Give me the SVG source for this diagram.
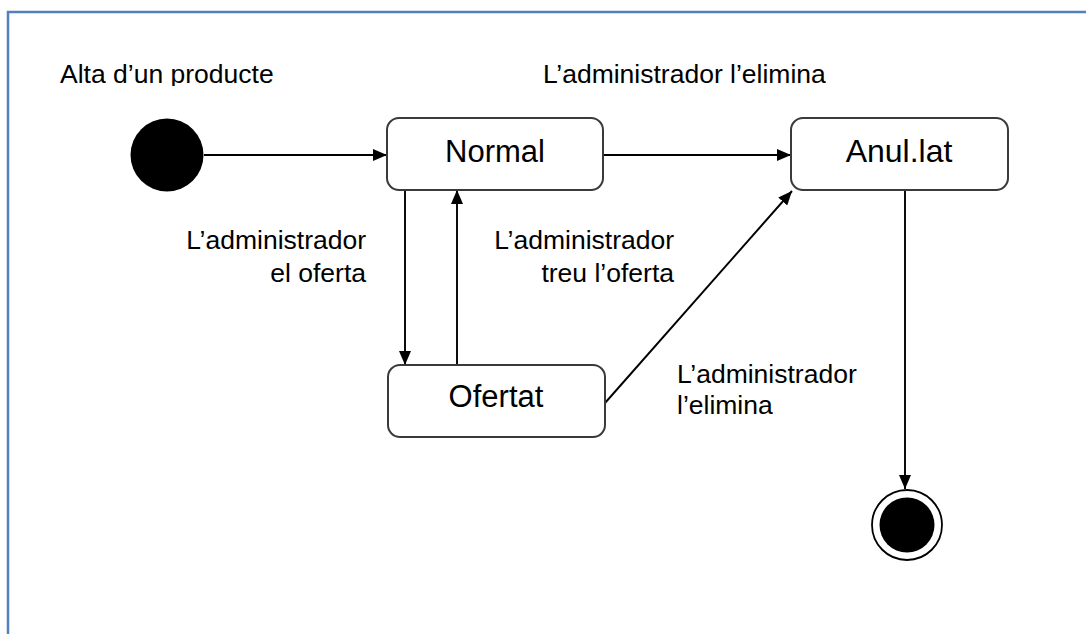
<svg xmlns="http://www.w3.org/2000/svg" width="1086" height="634" viewBox="0 0 1086 634">
  <style>
    .frame { stroke: #4f81bd; stroke-width: 2.5; fill: none; }
    .state rect { fill: #ffffff; stroke: #3a3a3a; stroke-width: 2; }
    .state text { font-family: "Liberation Sans", Arial, sans-serif; font-size: 31px; fill: #000; text-anchor: middle; }
    .lbl { font-family: "Liberation Sans", Arial, sans-serif; font-size: 26.5px; fill: #000; }
    .conn { stroke: #000; stroke-width: 1.9; fill: none; marker-end: url(#arr); }
  </style>
  <defs>
    <marker id="arr" viewBox="0 0 14 12" refX="14" refY="6" markerWidth="14" markerHeight="12" markerUnits="userSpaceOnUse" orient="auto">
      <path d="M0,0 L14,6 L0,12 z" fill="#000"/>
    </marker>
    <clipPath id="clipTop"><rect x="0" y="0" width="1086" height="86"/></clipPath>
  </defs>
  <rect width="1086" height="634" fill="#ffffff"/>
  <g id="frame">
    <path class="frame" d="M8,634 L8,12 L1086,12"/>
  </g>

  <g id="connectors">
    <line class="conn" x1="204" y1="155" x2="387" y2="155"/>
    <line class="conn" x1="603" y1="155" x2="791" y2="155"/>
    <line class="conn" x1="405" y1="190" x2="405" y2="365"/>
    <line class="conn" x1="457" y1="365" x2="457" y2="190"/>
    <line class="conn" x1="605" y1="403" x2="792" y2="191"/>
    <line class="conn" x1="905" y1="190" x2="905" y2="489"/>
  </g>

  <g id="labels" class="lbl">
    <text x="60" y="83" clip-path="url(#clipTop)">Alta d’un producte</text>
    <text x="543" y="83" clip-path="url(#clipTop)">L’administrador l’elimina</text>
    <text x="366" y="249" text-anchor="end">L’administrador</text>
    <text x="366" y="282" text-anchor="end">el oferta</text>
    <text x="674" y="249" text-anchor="end">L’administrador</text>
    <text x="674" y="282" text-anchor="end">treu l’oferta</text>
    <text x="677" y="383">L’administrador</text>
    <text x="677" y="414">l’elimina</text>
  </g>

  <g id="initial">
    <circle cx="167" cy="155" r="36.5" fill="#000"/>
  </g>
  <g id="normal" class="state">
    <rect x="387" y="118" width="216" height="72" rx="12"/>
    <text x="495" y="162">Normal</text>
  </g>
  <g id="anullat" class="state">
    <rect x="791" y="118" width="217" height="72" rx="12"/>
    <text x="899" y="162" style="font-size:32px">Anul.lat</text>
  </g>
  <g id="ofertat" class="state">
    <rect x="388" y="365" width="217" height="72" rx="12"/>
    <text x="496" y="407">Ofertat</text>
  </g>
  <g id="final">
    <circle cx="907" cy="525" r="35" fill="#fff" stroke="#000" stroke-width="1.8"/>
    <circle cx="907" cy="525" r="27.5" fill="#000"/>
  </g>
</svg>
